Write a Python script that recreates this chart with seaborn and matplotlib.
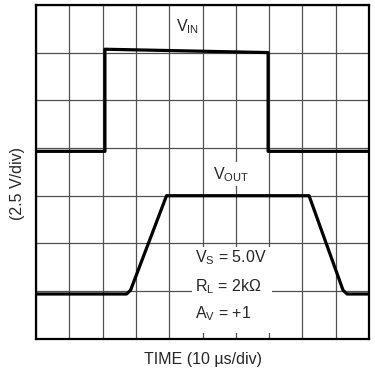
import numpy as np
import pandas as pd
import seaborn as sns
import matplotlib.pyplot as plt
from matplotlib.patches import Rectangle

# waveform data, in divisions (x: 10 us/div, y: 2.5 V/div)
vin_t = [0, 2.07, 2.07, 6.97, 6.97, 10]
vin_v = [3.93, 3.93, 6.07, 6.0, 3.93, 3.93]
vout_t = [0, 2.72, 2.84, 3.92, 8.2, 9.22, 9.34, 10]
vout_v = [0.94, 0.94, 1.02, 3.0, 3.0, 1.02, 0.94, 0.94]

sns.set_style('white')
plt.rcParams['font.family'] = ['Liberation Sans', 'DejaVu Sans']
plt.rcParams['mathtext.fontset'] = 'custom'
plt.rcParams['mathtext.rm'] = 'Liberation Sans'
plt.rcParams['mathtext.it'] = 'Liberation Sans'

fig = plt.figure(figsize=(3.75, 3.74), dpi=100)
ax = fig.add_axes([0.096, 0.094, 0.888, 0.893])

vin = pd.DataFrame({'t': vin_t, 'v': vin_v})
vout = pd.DataFrame({'t': vout_t, 'v': vout_v})
sns.lineplot(data=vin, x='t', y='v', sort=False, estimator=None, errorbar=None,
             color='black', lw=2.3, ax=ax, zorder=4)
sns.lineplot(data=vout, x='t', y='v', sort=False, estimator=None, errorbar=None,
             color='black', lw=2.3, ax=ax, zorder=4)

ax.set_xlim(0, 10)
ax.set_ylim(0, 7)
ax.set_xticks(np.arange(0, 11))
ax.set_yticks(np.arange(0, 8))
ax.set_xticklabels([])
ax.set_yticklabels([])
ax.tick_params(length=0)
ax.grid(True, color='#505050', lw=0.9)
ax.set_axisbelow(True)
for s in ax.spines.values():
    s.set_color('black')
    s.set_linewidth(1.6)
ax.set_xlabel('')
ax.set_ylabel('')

# white patch behind the conditions block, hides the grid there
ax.add_patch(Rectangle((4.68, 0.13), 2.42, 1.8, facecolor='white', edgecolor='none', zorder=2))

box = dict(facecolor='white', edgecolor='none', pad=2)
fs = 11.5
ax.text(4.55, 6.55, r'V$_{\mathrm{IN}}$', fontsize=fs, ha='center', va='center', zorder=3)
ax.text(5.86, 3.45, r'V$_{\mathrm{OUT}}$', fontsize=fs, ha='center', va='center', bbox=box, zorder=3)
ax.text(4.77, 1.70, r'V$_{\mathrm{S}}$ = 5.0V', fontsize=fs, ha='left', va='center', zorder=3)
ax.text(4.77, 1.09, r'R$_{\mathrm{L}}$ = 2k$\Omega$', fontsize=fs, ha='left', va='center', zorder=3)
ax.text(4.77, 0.52, r'A$_{\mathrm{V}}$ = +1', fontsize=fs, ha='left', va='center', zorder=3)

fig.text(0.54, 0.04, 'TIME (10 \u00b5s/div)', fontsize=fs, ha='center', va='center')
fig.text(0.048, 0.51, '(2.5 V/div)', fontsize=fs, ha='center', va='center', rotation=90)

fig.savefig('out.png', dpi=100)
